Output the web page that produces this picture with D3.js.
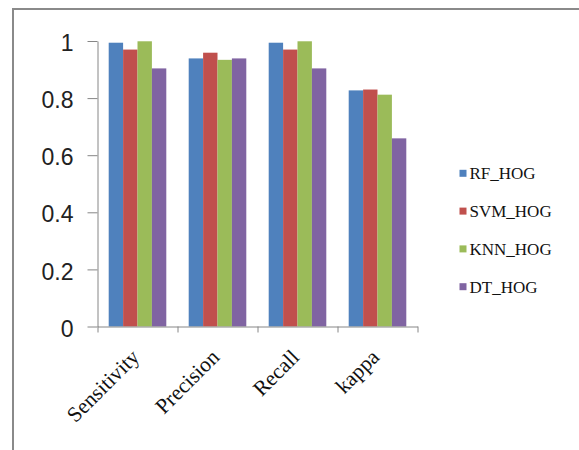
<!DOCTYPE html>
<html><head><meta charset="utf-8">
<script src="https://cdn.jsdelivr.net/npm/d3@7"></script>
<style>html,body{margin:0;padding:0;background:#fff;} svg{display:block;}</style>
</head><body>
<svg id="c" width="579" height="450"></svg>
<script>
const categories = ["Sensitivity", "Precision", "Recall", "kappa"];
const seriesNames = ["RF_HOG", "SVM_HOG", "KNN_HOG", "DT_HOG"];
const RF_HOG  = [0.994, 0.939, 0.994, 0.827];
const SVM_HOG = [0.970, 0.959, 0.970, 0.830];
const KNN_HOG = [0.999, 0.934, 0.999, 0.812];
const DT_HOG  = [0.904, 0.939, 0.904, 0.659];
const yTicks = [0, 0.2, 0.4, 0.6, 0.8, 1];
const colors = ["#4F81BD", "#C0504D", "#9BBB59", "#8064A2"];

const values = [RF_HOG, SVM_HOG, KNN_HOG, DT_HOG];
const svg = d3.select("#c");

// outer frame (left & top)
svg.append("path").attr("d", "M13,450V9H579").attr("fill", "none")
  .attr("stroke", "#8a8a8a").attr("stroke-width", 2);

const x0 = 97.5, x1 = 417.5, yB = 326.5, yT = 41;
const x = d3.scaleBand().domain(categories).range([x0, x1]).paddingInner(0.28).paddingOuter(0.14);
const xs = d3.scaleBand().domain(seriesNames).range([0, x.bandwidth()]);
const xb = d3.scaleLinear().domain([0, categories.length]).range([x0, x1]);
const y = d3.scaleLinear().domain([0, 1]).range([yB, yT]);

const data = [];
categories.forEach((c, i) => seriesNames.forEach((s, j) => data.push({c, s, j, v: values[j][i]})));

svg.append("g").selectAll("rect").data(data).join("rect")
  .attr("x", d => x(d.c) + xs(d.s))
  .attr("y", d => y(d.v))
  .attr("width", xs.bandwidth())
  .attr("height", d => yB - y(d.v))
  .attr("fill", d => colors[d.j]);

// y axis
const ya = svg.append("g").attr("transform", `translate(${x0},0)`)
  .call(d3.axisLeft(y).tickValues(yTicks).tickSize(10).tickSizeOuter(0).tickPadding(14)
    .tickFormat(d => d === 0 ? "0" : d === 1 ? "1" : d3.format(".1f")(d)));
ya.selectAll("path,line").attr("stroke", "#868686");
ya.selectAll("text").attr("font-family", "Liberation Sans, Arial, sans-serif")
  .attr("font-size", 23).attr("fill", "#222").attr("dy", "0.42em");

// x axis (boundary ticks)
const xa = svg.append("g").attr("transform", `translate(0,${yB})`)
  .call(d3.axisBottom(xb).tickValues(d3.range(categories.length + 1)).tickSize(6).tickSizeOuter(0).tickFormat(""));
xa.selectAll("path,line").attr("stroke", "#868686");

// x labels
const xl = svg.append("g").attr("transform", `translate(0,${yB})`)
  .call(d3.axisBottom(x).tickSize(0).tickPadding(0));
xl.select(".domain").remove();
xl.selectAll("text")
  .attr("font-family", "Liberation Serif, Times New Roman, serif").attr("font-size", 21.5).attr("fill", "#111")
  .attr("text-anchor", "end").attr("dy", 0).attr("y", 0)
  .attr("transform", "translate(3,32) rotate(-45)");

// legend
const lg = svg.append("g");
const ly = d3.scalePoint().domain(seriesNames).range([173.3, 286.7]);
seriesNames.forEach((s, j) => {
  lg.append("rect").attr("x", 459.5).attr("y", ly(s) - 3.5).attr("width", 7).attr("height", 7).attr("fill", colors[j]);
  lg.append("text").attr("x", 469.5).attr("y", ly(s) + 6)
    .attr("font-family", "Liberation Serif, Times New Roman, serif").attr("font-size", 17).attr("fill", "#111")
    .text(s);
});
</script>
</body></html>
